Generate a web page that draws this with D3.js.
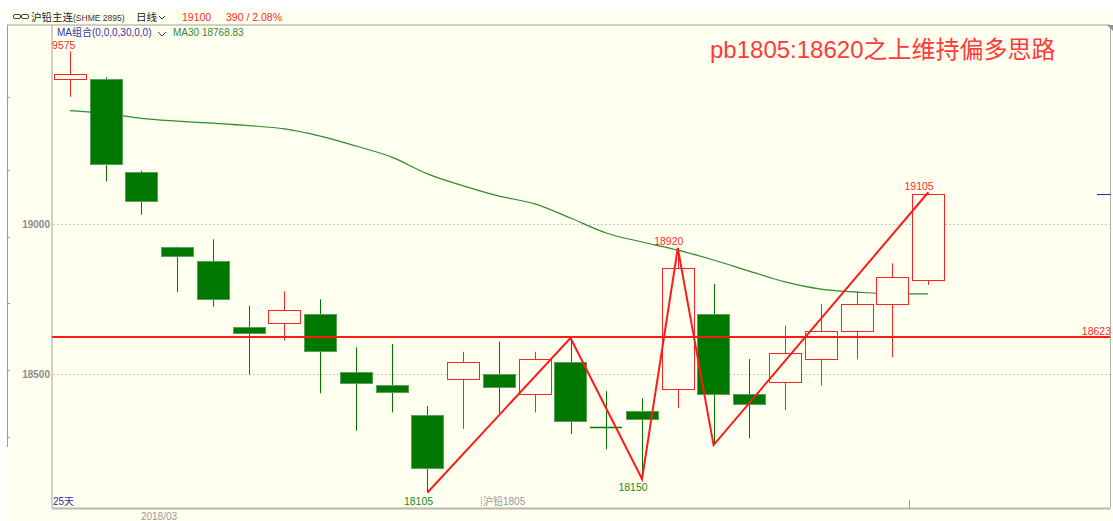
<!DOCTYPE html>
<html>
<head>
<meta charset="utf-8">
<script src="https://cdn.jsdelivr.net/npm/d3@7"></script>
<style>
  body { margin: 0; background: #ffffff; }
  svg { display: block; }
</style>
</head>
<body>
<div id="chart"></div>
<script>
// 25 daily candles of pb1805
let days = d3.range(25);
let opens  = [19482,19483,19174,18924,18877,18658,18669,18699,18508,18463,18363,18482,18500,18432,18539,18325,18377,18449,18699,18433,18472,18551,18642,18732,18813];
let highs  = [19575,19489,19178,18925,18949,18727,18776,18749,18589,18600,18393,18574,18608,18574,18620,18443,18419,18920,18800,18550,18661,18733,18776,18869,19105];
let lows   = [19424,19142,19031,18773,18724,18498,18612,18436,18311,18372,18105,18317,18369,18372,18300,18249,18150,18386,18263,18286,18380,18461,18549,18556,18797];
let closes = [19499,19201,19077,18893,18749,18637,18712,18576,18472,18441,18188,18539,18456,18549,18343,18323,18350,18852,18431,18400,18569,18643,18732,18823,19100];
let ma30   = [19378,19368,19352,19343,19336,19328,19317,19293,19260,19223,19167,19127,19093,19067,19020,18970,18940,18913,18880,18843,18807,18783,18773,18767,18767];

// zigzag pivots (day index, price)
let pivotDays   = [10, 14, 16, 17, 18, 24];
let pivotPrices = [18105, 18620, 18150, 18920, 18263, 19105];
// labelled extremes
let highLabelDays = [0, 17, 24];
let lowLabelDays  = [10, 16];

let support = 18623;
let lastPrice = 19100;
let yTicks = [19000, 18500];

let bg = "#fffff0";
let upColor = "#ff2222";
let downColor = "#007800";

function config(){
    let width = 1113, height = 521;
    let plot = { left: 52, top: 25, right: 1110, bottom: 508.5 };
    let svg = d3.select("#chart").append("svg")
        .attr("width", width)
        .attr("height", height)
        .style("font-family", "'Liberation Sans', 'Noto Sans CJK SC', sans-serif");
    return { width, height, plot, svg };
}

function makeScales(cfg){
    let xScale = d3.scaleBand()
        .domain(days)
        .range([52, 946])
        .paddingInner(0.1)
        .paddingOuter(0.05);
    let yScale = d3.scaleLinear()
        .domain([18000, 19700])
        .range([524, 14]);
    return { xScale, yScale };
}

function drawFrame(cfg, scales){
    let { svg, plot, width, height } = cfg;
    let { yScale } = scales;

    svg.append("rect").attr("x", 7).attr("y", 9)
        .attr("width", width - 7).attr("height", height - 9)
        .attr("fill", bg);

    svg.append("defs").append("clipPath").attr("id", "plotClip")
        .append("rect")
        .attr("x", plot.left).attr("y", plot.top)
        .attr("width", plot.right - plot.left).attr("height", plot.bottom - plot.top);

    // frame lines
    svg.append("line").attr("x1", 7).attr("x2", plot.right).attr("y1", plot.top).attr("y2", plot.top)
        .attr("stroke", "#a0a0a0");
    svg.append("line").attr("x1", plot.left).attr("x2", plot.left).attr("y1", plot.top).attr("y2", plot.bottom)
        .attr("stroke", "#a0a0a0");
    svg.append("line").attr("x1", plot.left).attr("x2", plot.right).attr("y1", plot.bottom).attr("y2", plot.bottom)
        .attr("stroke", "#b8b8b0").attr("stroke-width", 2);
    svg.append("line").attr("x1", plot.right + 0.5).attr("x2", plot.right + 0.5).attr("y1", plot.top).attr("y2", plot.bottom)
        .attr("stroke", "#b0b0b0");
    svg.append("path").attr("d", "M1107,25 L1113,25 L1113,31 Z").attr("fill", "#909090");

    // left side scale strip
    svg.append("line").attr("x1", 7.5).attr("x2", 7.5).attr("y1", plot.top).attr("y2", 447)
        .attr("stroke", "#9a9a9a");
    [97, 170, 237, 303, 370, 437].forEach(ty => {
        svg.append("line").attr("x1", 7).attr("x2", 10).attr("y1", ty + 0.5).attr("y2", ty + 0.5)
            .attr("stroke", "#9a9a9a");
    });

    // grid + y labels
    yTicks.forEach(t => {
        svg.append("line")
            .attr("x1", plot.left + 1).attr("x2", plot.right)
            .attr("y1", Math.round(yScale(t)) + 0.5).attr("y2", Math.round(yScale(t)) + 0.5)
            .attr("stroke", "#c8c8c8")
            .attr("stroke-dasharray", "2,2");
        svg.append("text")
            .attr("x", 50).attr("y", yScale(t) + 4)
            .attr("text-anchor", "end")
            .attr("fill", "#8c8c8c")
            .style("font-size", "10px")
            .style("font-weight", "bold")
            .text(t);
    });

    // bottom
    svg.append("line").attr("x1", 909.5).attr("x2", 909.5).attr("y1", 500).attr("y2", plot.bottom)
        .attr("stroke", "#a0a0a0");
    svg.append("text").attr("x", 159).attr("y", 520)
        .attr("text-anchor", "middle").attr("fill", "#999999")
        .style("font-size", "10px").text("2018/03");
    svg.append("text").attr("x", 53).attr("y", 505)
        .attr("fill", "#3030a0").style("font-size", "10px").text("25天");
    svg.append("line").attr("x1", 481.5).attr("x2", 481.5).attr("y1", 497).attr("y2", 507)
        .attr("stroke", "#999").attr("stroke-dasharray", "1,1");
    svg.append("text").attr("x", 483).attr("y", 505)
        .attr("fill", "#999999").style("font-size", "10px").text("沪铅1805");
}

function drawHeader(cfg){
    let { svg } = cfg;
    // link icon
    svg.append("rect").attr("x", 13.5).attr("y", 14.5).attr("width", 7).attr("height", 4).attr("rx", 1.5)
        .attr("fill", "none").attr("stroke", "#444");
    svg.append("rect").attr("x", 21.5).attr("y", 14.5).attr("width", 7).attr("height", 4).attr("rx", 1.5)
        .attr("fill", "none").attr("stroke", "#444");
    svg.append("text").attr("x", 31).attr("y", 21).attr("fill", "#222")
        .style("font-size", "10.5px").text("沪铅主连");
    svg.append("text").attr("x", 73).attr("y", 21).attr("fill", "#333")
        .style("font-size", "8.5px").text("(SHME 2895)");
    svg.append("text").attr("x", 136).attr("y", 21).attr("fill", "#222")
        .style("font-size", "10.5px").text("日线");
    svg.append("path").attr("d", "M159,16 L162,19 L165,16").attr("fill", "none").attr("stroke", "#333");
    svg.append("text").attr("x", 182).attr("y", 21).attr("fill", "#ff2a2a")
        .style("font-size", "10.5px").text("19100");
    svg.append("text").attr("x", 226).attr("y", 21).attr("fill", "#ff2a2a")
        .style("font-size", "10.5px").text("390 / 2.08%");

    svg.append("text").attr("x", 57).attr("y", 36).attr("fill", "#3333aa")
        .style("font-size", "10px").text("MA组合(0,0,0,30,0,0)");
    svg.append("path").attr("d", "M158,32 L162,36 L166,32").attr("fill", "none").attr("stroke", "#3333aa");
    svg.append("text").attr("x", 173).attr("y", 36).attr("fill", "#2e8b2e")
        .style("font-size", "10px").text("MA30 18768.83");

    svg.append("text").attr("x", 710).attr("y", 58).attr("fill", "#ff3a3a")
        .style("font-size", "24px").text("pb1805:18620之上维持偏多思路");
}

function drawCandles(cfg, scales){
    let { svg, plot } = cfg;
    let { xScale, yScale } = scales;
    let g = svg.append("g").attr("clip-path", "url(#plotClip)");
    let bw = xScale.bandwidth();
    let cx = i => Math.round(xScale(i) + bw / 2) + 0.5;

    // MA30
    let line = d3.line()
        .x(i => xScale(i) + bw / 2)
        .y(i => yScale(ma30[i]))
        .curve(d3.curveMonotoneX);
    g.append("path").datum(days).attr("d", line)
        .attr("fill", "none").attr("stroke", "#2e8b2e").attr("stroke-width", 1.2);

    days.forEach(i => {
        let up = closes[i] >= opens[i];
        let col = up ? upColor : downColor;
        g.append("line")
            .attr("x1", cx(i)).attr("x2", cx(i))
            .attr("y1", yScale(highs[i])).attr("y2", yScale(lows[i]))
            .attr("stroke", col);
        let top = yScale(Math.max(opens[i], closes[i]));
        let bot = yScale(Math.min(opens[i], closes[i]));
        let h = Math.max(1, bot - top);
        if (h <= 1.5) {
            g.append("line")
                .attr("x1", Math.round(xScale(i))).attr("x2", Math.round(xScale(i) + bw))
                .attr("y1", Math.round(top) + 0.5).attr("y2", Math.round(top) + 0.5)
                .attr("stroke", col).attr("stroke-width", 1.5);
        } else {
            g.append("rect")
                .attr("x", Math.round(xScale(i)) + 0.5).attr("y", Math.round(top) + 0.5)
                .attr("width", Math.round(bw)).attr("height", Math.round(h))
                .attr("fill", up ? bg : downColor)
                .attr("stroke", up ? upColor : "#5aa05a");
        }
    });

    // support line
    g.append("line")
        .attr("x1", plot.left).attr("x2", plot.right)
        .attr("y1", yScale(support)).attr("y2", yScale(support))
        .attr("stroke", "#ff1a1a").attr("stroke-width", 2);
    svg.append("text")
        .attr("x", 1111).attr("y", yScale(support) - 2)
        .attr("text-anchor", "end").attr("fill", "#ff2a2a")
        .style("font-size", "10.5px").text(support);

    // last price marker
    svg.append("line").attr("x1", 1097).attr("x2", 1111)
        .attr("y1", Math.round(yScale(lastPrice)) + 0.5).attr("y2", Math.round(yScale(lastPrice)) + 0.5)
        .attr("stroke", "#2a2ab0");

    // zigzag
    let zz = d3.line()
        .x(k => xScale(pivotDays[k]) + bw / 2)
        .y(k => yScale(pivotPrices[k]));
    g.append("path").datum(d3.range(pivotDays.length)).attr("d", zz)
        .attr("fill", "none").attr("stroke", "#ff1a1a").attr("stroke-width", 2)
        .attr("stroke-linejoin", "miter");

    // extreme labels
    highLabelDays.forEach(i => {
        g.append("text")
            .attr("x", xScale(i) + bw / 2 - 9).attr("y", yScale(highs[i]) - 3)
            .attr("text-anchor", "middle").attr("fill", "#ff2a2a")
            .style("font-size", "10.5px").text(highs[i]);
    });
    lowLabelDays.forEach(i => {
        g.append("text")
            .attr("x", xScale(i) + bw / 2 - 9).attr("y", yScale(lows[i]) + 12)
            .attr("text-anchor", "middle").attr("fill", "#1a8a1a")
            .style("font-size", "10.5px").text(lows[i]);
    });
}

let cfg = config();
let scales = makeScales(cfg);
drawFrame(cfg, scales);
drawHeader(cfg);
drawCandles(cfg, scales);
</script>
</body>
</html>
